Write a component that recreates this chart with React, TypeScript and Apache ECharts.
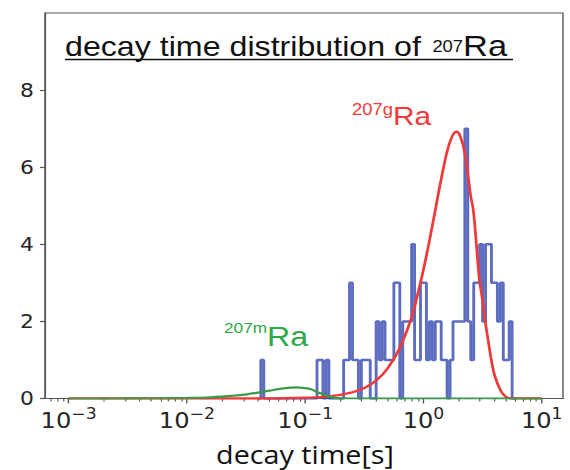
import React, { useEffect, useRef } from "react";
import * as echarts from "echarts";

// ---- data ----
const majorExponents = [-3, -2, -1, 0, 1];
const yTickValues = [0, 2, 4, 6, 8];
const xMinLog10 = -3.2;
const xMaxLog10 = 1.18;
const yMax = 10;

// histogram: log10 bins of width 0.025 starting at 10^-1.4 s
const histFirstEdgeLog10 = -1.4;
const histBinWidthLog10 = 0.025;
const histCounts = [
  0, 1,
  0, 0, 0, 0, 0, 0, 0, 0, 0, 0, 0, 0, 0, 0, 0, 0, 0, 0,
  1, 1, 0, 1,
  0, 0, 0, 0, 0,
  1, 1, 3, 1, 1, 0, 1, 1, 1, 0, 0,
  2, 1, 2, 1, 1, 1, 3, 3, 0, 2, 2, 2,
  4, 1, 1, 3, 3, 1, 2, 1, 2, 2, 1, 1, 0, 1,
  2, 2, 2, 2, 7, 2, 1, 3, 3, 4, 2, 4, 4, 3, 3, 2, 3, 1, 1, 2, 0,
];

// fitted curve for 207gRa (time in s, counts)
const redTimes = [0.001, 0.05, 0.1, 0.16, 0.25, 0.32, 0.4, 0.5, 0.63, 0.8, 0.9, 1.0, 1.12, 1.26, 1.4, 1.58, 1.75, 1.9, 2.05, 2.24, 2.5, 2.65, 2.97, 3.16, 3.35, 3.55, 3.75, 4.0, 4.5, 5.0, 5.6, 10];
const redValues = [0, 0, 0.02, 0.055, 0.16, 0.28, 0.47, 0.79, 1.31, 2.13, 2.74, 3.34, 4.07, 4.89, 5.63, 6.39, 6.8, 6.92, 6.8, 6.36, 5.29, 4.85, 3.1, 2.55, 1.95, 1.45, 1.0, 0.6, 0.2, 0.04, 0, 0];

// fitted curve for 207mRa
const greenTimes = [0.001, 0.003, 0.01, 0.016, 0.025, 0.032, 0.04, 0.05, 0.063, 0.084, 0.1, 0.112, 0.126, 0.141, 0.158, 0.178, 0.2, 0.25, 10];
const greenValues = [0, 0.002, 0.015, 0.033, 0.074, 0.108, 0.152, 0.204, 0.256, 0.29, 0.27, 0.24, 0.17, 0.11, 0.05, 0.018, 0.004, 0, 0];

// ---- layout ----
const OUT_W = 570;
const OUT_H = 470;
const IN_W = 496;
const S = OUT_W / IN_W;
const X = (px: number) => px / S;

const RED = "#f03a3a";
const GREEN = "#3a9a48";
const BLUE = "#3347b0";
const AXIS = "#555";
const LABEL = "#262626";

function buildOption() {
  const histPts: number[][] = [];
  histPts.push([histFirstEdgeLog10, 0]);
  histCounts.forEach((c, i) => {
    const l = histFirstEdgeLog10 + i * histBinWidthLog10;
    histPts.push([l, c], [l + histBinWidthLog10, c]);
  });
  histPts.push([histFirstEdgeLog10 + histCounts.length * histBinWidthLog10, 0]);

  const redPts = redTimes.map((t, i) => [Math.log10(t), redValues[i]]);
  const greenPts = greenTimes.map((t, i) => [Math.log10(t), greenValues[i]]);

  const minorTicks: number[] = [];
  for (let d = -4; d <= 1; d++) {
    for (let k = 2; k <= 9; k++) {
      const v = d + Math.log10(k);
      if (v > xMinLog10 && v < xMaxLog10) minorTicks.push(v);
    }
  }

  const gridBox = { left: X(45), right: IN_W - X(563), top: 13, bottom: OUT_H - 398.5 };
  const sans = "'Liberation Sans', Arial, sans-serif";
  const dejavu = "'DejaVu Sans', sans-serif";

  return {
    animation: false,
    backgroundColor: "#fff",
    grid: [
      { ...gridBox, show: true, borderColor: AXIS, borderWidth: 1.2, containLabel: false, outerBoundsMode: "none" },
      { ...gridBox, show: false, containLabel: false, outerBoundsMode: "none" },
    ],
    xAxis: [
      {
        type: "value",
        gridIndex: 0,
        min: xMinLog10,
        max: xMaxLog10,
        axisLine: { show: true, onZero: false, lineStyle: { color: AXIS, width: 1.2 } },
        axisTick: { show: true, customValues: majorExponents, length: 5, lineStyle: { color: AXIS, width: 1.2 } },
        axisLabel: {
          customValues: majorExponents,
          margin: 8,
          formatter: (v: number) => `{b|10}{s|${v < 0 ? "\u2212" : ""}${Math.abs(v)}}`,
          rich: {
            b: { fontSize: 21, lineHeight: 28, fontFamily: dejavu, color: LABEL },
            s: { fontSize: 15, lineHeight: 10, verticalAlign: "top", fontFamily: dejavu, color: LABEL },
          },
        },
        splitLine: { show: false },
      },
      {
        type: "value",
        gridIndex: 1,
        min: xMinLog10,
        max: xMaxLog10,
        axisLine: { show: false, onZero: false },
        axisTick: { show: true, customValues: minorTicks, length: 3, lineStyle: { color: AXIS, width: 1 } },
        axisLabel: { show: false },
        splitLine: { show: false },
      },
    ],
    yAxis: [
      {
        type: "value",
        gridIndex: 0,
        min: 0,
        max: yMax,
        axisLine: { show: true, onZero: false, lineStyle: { color: AXIS, width: 1.2 } },
        axisTick: { show: true, customValues: yTickValues, length: X(5), lineStyle: { color: AXIS, width: 1.2 } },
        axisLabel: { customValues: yTickValues, margin: X(11), fontSize: 19, fontFamily: dejavu, color: LABEL },
        splitLine: { show: false },
      },
      { type: "value", gridIndex: 1, min: 0, max: yMax, show: false, axisLine: { onZero: false } },
    ],
    series: [
      {
        type: "line",
        xAxisIndex: 0,
        yAxisIndex: 0,
        data: histPts,
        symbol: "none",
        silent: true,
        lineStyle: { color: BLUE, width: 2.5, opacity: 0.8 },
      },
      {
        type: "line",
        xAxisIndex: 0,
        yAxisIndex: 0,
        data: redPts,
        symbol: "none",
        smooth: 0.35,
        silent: true,
        lineStyle: { color: RED, width: 2.4 },
      },
      {
        type: "line",
        xAxisIndex: 0,
        yAxisIndex: 0,
        data: greenPts,
        symbol: "none",
        smooth: 0.35,
        silent: true,
        lineStyle: { color: GREEN, width: 2.2 },
      },
    ],
    graphic: [
      {
        type: "text",
        x: X(65),
        y: 30,
        style: {
          text: "{b|decay time distribution of}{s|207}{r|Ra}",
          align: "left",
          verticalAlign: "top",
          rich: {
            b: { fontSize: 28, lineHeight: 32, fontFamily: sans, fill: "#111" },
            s: { fontSize: 16, lineHeight: 28, verticalAlign: "middle", padding: [0, 0, 0, 10], fontFamily: sans, fill: "#111" },
            r: { fontSize: 30, lineHeight: 32, fontFamily: sans, fill: "#111" },
          },
        },
      },
      {
        type: "line",
        shape: { x1: X(65), y1: 59.5, x2: X(513), y2: 59.5 },
        style: { stroke: "#111", lineWidth: 1.3 },
      },
      {
        type: "text",
        x: X(352),
        y: 101,
        style: {
          text: "{s|207g}{b|Ra}",
          align: "left",
          verticalAlign: "top",
          rich: {
            s: { fontSize: 16, lineHeight: 16, verticalAlign: "top", fontFamily: sans, fill: RED },
            b: { fontSize: 26, lineHeight: 30, fontFamily: sans, fill: RED },
          },
        },
      },
      {
        type: "text",
        x: X(224),
        y: 320,
        style: {
          text: "{s|207m}{b|Ra}",
          align: "left",
          verticalAlign: "top",
          rich: {
            s: { fontSize: 15, lineHeight: 16, verticalAlign: "top", fontFamily: sans, fill: "#2ea84a" },
            b: { fontSize: 28, lineHeight: 32, fontFamily: sans, fill: "#2ea84a" },
          },
        },
      },
      {
        type: "text",
        x: X(305),
        y: 454,
        style: {
          text: "decay time[s]",
          align: "center",
          verticalAlign: "middle",
          fontSize: 25,
          fontFamily: "'Open Sans', sans-serif",
          fill: "#111",
        },
      },
    ],
  };
}

export default function App() {
  const ref = useRef<HTMLDivElement>(null);
  useEffect(() => {
    if (!ref.current) return;
    const chart = echarts.init(ref.current, undefined, { renderer: "svg" });
    chart.setOption(buildOption() as any);
    return () => chart.dispose();
  }, []);
  return (
    <div style={{ position: "absolute", left: 0, top: 0, width: OUT_W, height: OUT_H, overflow: "hidden", background: "#fff" }}>
      <div
        ref={ref}
        style={{ width: IN_W, height: OUT_H, transform: `scaleX(${S})`, transformOrigin: "0 0" }}
      />
    </div>
  );
}
